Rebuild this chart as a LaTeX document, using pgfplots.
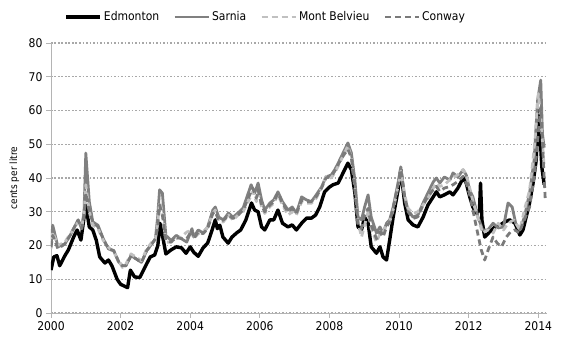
\documentclass[border=0pt]{standalone}
\usepackage{pgfplots}
\pgfplotsset{compat=1.18}
\usepackage{fontspec}
\setmainfont{DejaVu Sans Condensed}
\definecolor{sarnia}{HTML}{808080}
\definecolor{mbel}{HTML}{C0C0C0}
\definecolor{conway}{HTML}{7A7A7A}
\definecolor{gridc}{HTML}{A8A8A8}
\definecolor{axc}{HTML}{B4B4B4}

\begin{document}
\begin{tikzpicture}
\path (-51pt,-34pt) rectangle (516pt,313pt);
\begin{axis}[
  scale only axis,
  width=496pt, height=270pt,
  xmin=2000, xmax=2014.25,
  ymin=0, ymax=80,
  xtick={2000,2002,...,2014},
  ytick={0,10,...,80},
  axis x line*=bottom, axis y line*=left,
  axis line style={draw=axc, line width=0.8pt},
  tick style={draw=axc, line width=0.8pt},
  tick align=outside,
  major tick length=5pt,
  ymajorgrids=true,
  grid style={draw=gridc, line width=1.1pt, dash pattern=on 1.6pt off 1.9pt},
  tick label style={font=\fontsize{12}{14}\selectfont},
  /pgf/number format/assume math mode=true,
  /pgf/number format/1000 sep={},
  ylabel={cents per litre},
  ylabel style={font=\fontsize{12}{14}\selectfont},
  every axis y label/.style={at={(axis description cs:-0.074,0.5)}, rotate=90, anchor=center},
  legend columns=4,
  legend style={draw=none, fill=none, at={(0.433,1.096)}, anchor=center,
    font=\fontsize{12}{14}\selectfont,
    /tikz/every even column/.append style={column sep=12pt}},
  legend cell align=left,
  legend image code/.code={\draw[#1] (0pt,0pt) -- (34pt,0pt);},
  line join=round,
]
\addplot[black, line width=3.4pt] coordinates {
(2000.00,12.7)(2000.08,16.6)(2000.17,17)(2000.25,14)(2000.4,17)(2000.5,18.7)(2000.65,22.5)(2000.75,24.6)(2000.86,21.6)(2000.95,28.4)(2001.0,32)(2001.1,25.5)(2001.2,24.6)(2001.3,21.6)(2001.4,16.6)(2001.55,14.8)(2001.65,15.7)(2001.75,14)(2001.9,10)(2002.0,8.5)(2002.1,8)(2002.2,7.5)(2002.28,12.7)(2002.4,10.7)(2002.55,10.5)(2002.7,13.6)(2002.85,16.6)(2002.98,17.2)(2003.07,20)(2003.13,26.6)(2003.22,22)(2003.3,17.5)(2003.45,18.7)(2003.6,19.6)(2003.75,19.3)(2003.88,17.7)(2004.0,19.6)(2004.1,18)(2004.23,16.8)(2004.37,19.3)(2004.5,20.7)(2004.6,23.7)(2004.72,27.6)(2004.78,25)(2004.85,26)(2004.94,22.5)(2005.09,20.7)(2005.2,22.5)(2005.33,23.7)(2005.45,24.6)(2005.6,27.6)(2005.76,32.6)(2005.85,30.5)(2005.95,30)(2006.05,25.5)(2006.14,24.6)(2006.29,27.6)(2006.4,27.6)(2006.52,30.5)(2006.65,26.6)(2006.81,25.5)(2006.93,26.1)(2007.05,24.6)(2007.2,26.6)(2007.34,28.1)(2007.48,28.1)(2007.6,29)(2007.72,31.4)(2007.86,35.9)(2008.0,37.3)(2008.1,38)(2008.25,38.5)(2008.39,41.5)(2008.53,44.4)(2008.63,42.4)(2008.73,35.6)(2008.82,25.5)(2008.92,24.6)(2009.01,28.4)(2009.11,26.6)(2009.2,19.6)(2009.35,17.7)(2009.45,19.6)(2009.54,16.6)(2009.64,15.7)(2009.73,21.6)(2009.83,28.4)(2009.97,36.4)(2010.05,42.4)(2010.16,32.6)(2010.26,27.6)(2010.4,26.1)(2010.54,25.5)(2010.69,28.4)(2010.83,32)(2010.98,34.4)(2011.07,35.9)(2011.17,34.4)(2011.3,35)(2011.46,35.9)(2011.55,35)(2011.69,37)(2011.84,40)(2011.93,38.5)(2012.03,34.4)(2012.12,31.4)(2012.22,29.6)(2012.31,30.5)(2012.34,38.5)(2012.38,27.6)(2012.46,22.5)(2012.6,24)(2012.75,25.5)(2012.89,26)(2013.04,27)(2013.18,27.6)(2013.33,26.6)(2013.47,23.1)(2013.56,24.6)(2013.65,28.4)(2013.75,32.6)(2013.85,38.5)(2013.94,45.3)(2014.0,60)(2014.05,53)(2014.1,43.3)(2014.17,38)
};
\addlegendentry{Edmonton}
\addplot[sarnia, line width=2.8pt] coordinates {
(2000.0,20)(2000.05,26)(2000.2,19.6)(2000.4,20.5)(2000.55,23)(2000.7,26)(2000.78,27.6)(2000.88,25)(2000.95,30)(2001.0,47.4)(2001.1,33)(2001.2,27)(2001.35,26)(2001.5,22)(2001.65,19)(2001.8,18.5)(2001.95,15)(2002.05,14)(2002.15,14)(2002.3,17)(2002.45,16)(2002.6,15)(2002.75,18.5)(2002.9,20.5)(2003.0,22)(2003.06,28)(2003.12,36.5)(2003.2,35.5)(2003.3,23)(2003.45,21.5)(2003.6,23)(2003.75,22)(2003.9,21)(2004.05,25)(2004.1,22.5)(2004.23,24.6)(2004.37,23.7)(2004.5,25.5)(2004.65,30.5)(2004.72,31.4)(2004.82,28.4)(2004.95,27.6)(2005.1,29.6)(2005.23,28.4)(2005.37,29.6)(2005.52,31.1)(2005.75,38)(2005.85,35.5)(2005.95,38.5)(2006.05,33.5)(2006.14,30.5)(2006.29,32.6)(2006.4,33.5)(2006.52,35.9)(2006.65,33)(2006.81,30.5)(2006.93,31.4)(2007.05,29.6)(2007.2,34.4)(2007.34,33.5)(2007.48,33)(2007.62,35)(2007.77,37.3)(2007.9,40.3)(2008.05,40.9)(2008.15,42.4)(2008.25,44.4)(2008.39,47.4)(2008.53,50.4)(2008.63,47.4)(2008.73,39.4)(2008.82,28.4)(2008.92,27.6)(2009.01,31.4)(2009.11,35)(2009.2,28.4)(2009.35,23.7)(2009.45,25.5)(2009.54,23.7)(2009.64,26.6)(2009.73,27.6)(2009.83,31.4)(2009.97,38.5)(2010.05,43.3)(2010.16,34.4)(2010.26,30.5)(2010.4,28.4)(2010.54,29)(2010.69,32.6)(2010.83,35.6)(2010.98,38.8)(2011.07,40)(2011.17,38.5)(2011.3,40.3)(2011.46,39.4)(2011.55,41.5)(2011.69,40.3)(2011.84,42.4)(2011.93,40.9)(2012.03,36.4)(2012.12,34.4)(2012.27,28.4)(2012.4,24.6)(2012.55,24.6)(2012.7,26.6)(2012.85,25.2)(2013.0,25.5)(2013.13,32.6)(2013.25,31.4)(2013.35,26.6)(2013.47,24.6)(2013.6,28.4)(2013.75,35.6)(2013.88,45.3)(2013.98,63)(2014.07,69)(2014.12,53)(2014.17,49)
};
\addlegendentry{Sarnia}
\addplot[mbel, line width=2.8pt, dash pattern=on 6pt off 4pt] coordinates {
(2000.0,19)(2000.05,24)(2000.2,20)(2000.4,21)(2000.55,23.5)(2000.7,25.5)(2000.78,27)(2000.88,25.5)(2000.95,29)(2001.0,38)(2001.1,30)(2001.2,26)(2001.35,25)(2001.5,21.5)(2001.65,19.5)(2001.8,18)(2001.95,15.5)(2002.05,13.5)(2002.15,14.5)(2002.3,17.5)(2002.45,16.5)(2002.6,15.5)(2002.75,19)(2002.9,21)(2003.0,22)(2003.06,26)(2003.12,33)(2003.2,30)(2003.3,21)(2003.45,21)(2003.6,22)(2003.75,22.5)(2003.9,24)(2004.05,24.5)(2004.1,22)(2004.23,23.5)(2004.37,24)(2004.5,25.5)(2004.65,29.5)(2004.72,30.5)(2004.82,27)(2004.95,27)(2005.1,29)(2005.23,27.5)(2005.37,29)(2005.52,30)(2005.71,34)(2005.8,36)(2005.9,33)(2005.95,35.5)(2006.05,31.5)(2006.14,29.5)(2006.29,31.5)(2006.4,32.5)(2006.52,35)(2006.65,32)(2006.81,29)(2006.93,30)(2007.05,29)(2007.2,33)(2007.34,32.5)(2007.48,32.5)(2007.62,34)(2007.77,37)(2007.9,40.5)(2008.05,40)(2008.15,41.5)(2008.25,43.5)(2008.39,46.5)(2008.53,49.5)(2008.63,46)(2008.73,37)(2008.82,27)(2008.92,22.5)(2009.01,26)(2009.11,30)(2009.2,25)(2009.35,21)(2009.45,23.5)(2009.54,24)(2009.64,26)(2009.73,27)(2009.83,30.5)(2009.97,37.5)(2010.05,42)(2010.16,35)(2010.26,31)(2010.4,29.5)(2010.54,30)(2010.69,32)(2010.83,34)(2010.98,37)(2011.07,38.5)(2011.17,37.5)(2011.3,38)(2011.46,39.5)(2011.55,40)(2011.69,41)(2011.84,42.5)(2011.93,41)(2012.03,37)(2012.12,33)(2012.27,28)(2012.4,23.7)(2012.55,24.6)(2012.7,23.7)(2012.85,26.6)(2013.0,24.6)(2013.13,26.6)(2013.3,27.6)(2013.47,24.6)(2013.6,30.5)(2013.75,36.4)(2013.9,50.4)(2014.0,65)(2014.07,58)(2014.17,43)
};
\addlegendentry{Mont Belvieu}
\addplot[conway, line width=2.8pt, dash pattern=on 6pt off 4pt] coordinates {
(2000.0,19.5)(2000.05,23)(2000.2,19)(2000.4,20.5)(2000.55,23)(2000.7,26)(2000.78,27.5)(2000.88,25)(2000.95,29)(2001.0,35.5)(2001.1,30)(2001.2,27)(2001.35,25.5)(2001.5,22)(2001.65,19)(2001.8,18.5)(2001.95,15)(2002.05,14)(2002.15,14)(2002.3,17)(2002.45,16)(2002.6,15)(2002.75,18.5)(2002.9,20.5)(2003.0,22)(2003.06,25)(2003.12,32)(2003.2,29)(2003.3,21.5)(2003.45,21)(2003.6,22.5)(2003.75,22)(2003.9,22)(2004.05,24.5)(2004.1,22)(2004.23,24)(2004.37,23.5)(2004.5,25)(2004.65,29.5)(2004.72,30)(2004.82,27.5)(2004.95,27.5)(2005.1,29)(2005.23,28)(2005.37,29)(2005.52,30.5)(2005.71,35)(2005.8,37)(2005.9,34)(2005.95,36.5)(2006.05,32)(2006.14,30)(2006.29,32)(2006.4,33)(2006.52,35.5)(2006.65,32.5)(2006.81,30)(2006.93,31)(2007.05,29.5)(2007.2,33.5)(2007.34,33)(2007.48,33)(2007.62,34.5)(2007.77,37)(2007.9,40)(2008.05,40.5)(2008.15,42)(2008.25,44)(2008.39,46.5)(2008.53,48.5)(2008.63,46)(2008.73,38)(2008.82,26)(2008.92,25)(2009.01,29)(2009.11,31)(2009.2,26)(2009.35,22)(2009.45,24)(2009.54,22.5)(2009.64,25.5)(2009.73,27)(2009.83,31)(2009.97,38)(2010.05,42.5)(2010.16,34)(2010.26,30)(2010.4,28)(2010.54,28.5)(2010.69,32)(2010.83,34.5)(2010.98,36.5)(2011.07,37.5)(2011.17,36)(2011.3,37)(2011.46,37.5)(2011.55,38)(2011.69,39)(2011.84,40.5)(2011.93,38.5)(2012.03,35)(2012.12,30.5)(2012.22,25.5)(2012.36,18.7)(2012.46,15.7)(2012.56,18.7)(2012.7,22.5)(2012.82,20.7)(2012.94,19.6)(2013.08,22.5)(2013.2,24)(2013.33,24.6)(2013.45,23.7)(2013.6,27.6)(2013.75,31.4)(2013.9,41.5)(2014.0,53.3)(2014.07,61)(2014.12,50.4)(2014.2,33.5)
};
\addlegendentry{Conway}
\end{axis}
\end{tikzpicture}
\end{document}
